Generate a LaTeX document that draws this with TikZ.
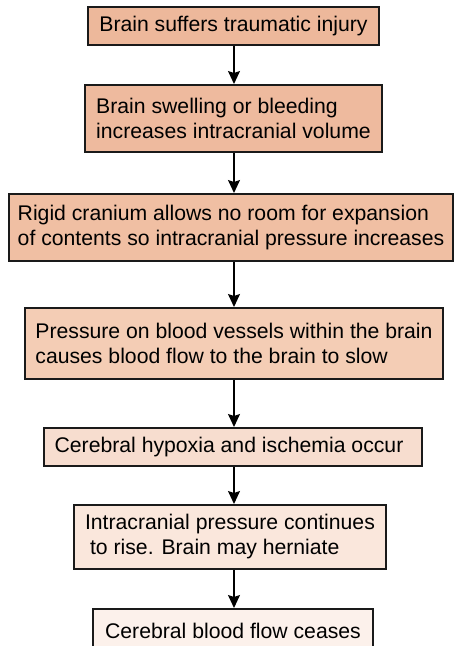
\documentclass[tikz,border=0pt]{standalone}
\usepackage{fontspec}
\setmainfont{Liberation Sans}
\usetikzlibrary{arrows.meta}
\definecolor{cA}{HTML}{EDB89B}
\definecolor{cB}{HTML}{EEBA9E}
\definecolor{cC}{HTML}{F0BFA3}
\definecolor{cD}{HTML}{F4CDB5}
\definecolor{cE}{HTML}{F7DDCF}
\definecolor{cF}{HTML}{FAE7DC}
\definecolor{cG}{HTML}{FCF1EB}
\definecolor{edge}{HTML}{1A1A1A}
\tikzset{
  stepbox/.style={draw=edge, line width=2pt, inner sep=0pt, align=left,
    font=\fontsize{21.2}{25}\selectfont, text=black},
  arr/.style={line width=1.5pt, draw=black, -{Stealth[length=13pt,width=12pt,inset=2pt]}}
}
\begin{document}
\begin{tikzpicture}[x=1pt,y=-1pt]
\useasboundingbox (0,0) rectangle (454,646);
\clip (0,0) rectangle (454,646);
\coordinate (ax) at (234,0);
\node[stepbox, fill=cA, minimum width=291pt, minimum height=38pt] (b1) at (233.5,26) {Brain suffers traumatic injury};
\node[stepbox, fill=cB, minimum width=297pt, minimum height=67pt] (b2) at (233.5,118.5) {Brain swelling or bleeding\\increases intracranial volume};
\node[stepbox, fill=cC, minimum width=444pt, minimum height=67pt] (b3) at (231,227.5) {Rigid cranium allows no room for expansion\\of contents so intracranial pressure increases};
\node[stepbox, fill=cD, minimum width=418pt, minimum height=71pt] (b4) at (234,343.5) {Pressure on blood vessels within the brain\\causes blood flow to the brain to slow};
\node[stepbox, fill=cE, minimum width=378pt, minimum height=38pt] (b5) at (233,447) {Cerebral hypoxia and ischemia occur\hspace*{8pt}};
\node[stepbox, fill=cF, minimum width=312pt, minimum height=64pt] (b6) at (230,537) {Intracranial pressure continues\\\hspace*{5pt}to rise. Brain may herniate};
\node[stepbox, fill=cG, minimum width=280pt, minimum height=44pt] (b7) at (233,631) {Cerebral blood flow ceases};
\draw[arr] (b1.south -| ax) -- (b2.north -| ax);
\draw[arr] (b2.south -| ax) -- (b3.north -| ax);
\draw[arr] (b3.south -| ax) -- (b4.north -| ax);
\draw[arr] (b4.south -| ax) -- (b5.north -| ax);
\draw[arr] (b5.south -| ax) -- (b6.north -| ax);
\draw[arr] (b6.south -| ax) -- (b7.north -| ax);
\end{tikzpicture}
\end{document}
